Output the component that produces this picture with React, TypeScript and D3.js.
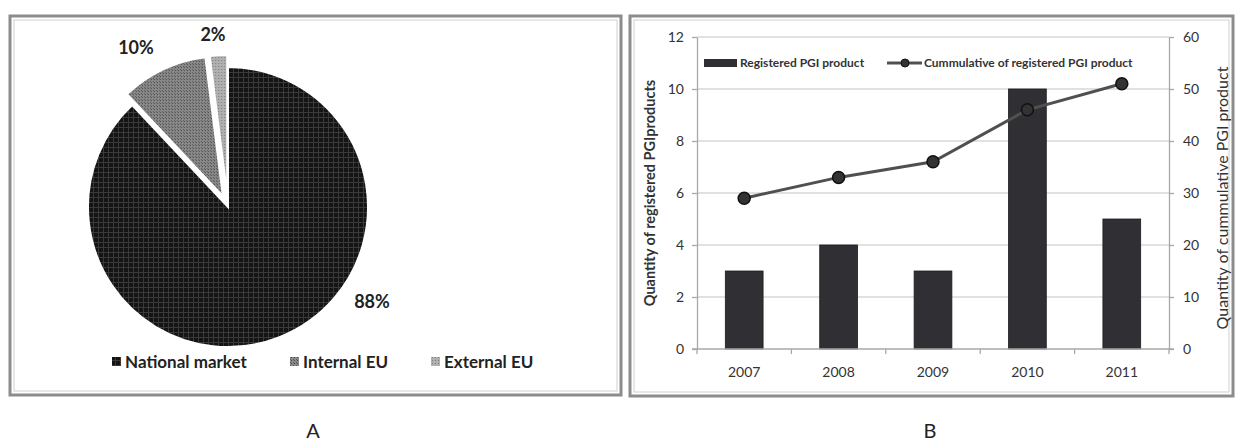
import React, { useEffect, useRef } from 'react';
import * as d3 from 'd3';

// Panel A: market share
const MARKETS = ['National market', 'Internal EU', 'External EU'];
const SHARES = [88, 10, 2];

// Panel B: registered PGI products
const YEARS = ['2007', '2008', '2009', '2010', '2011'];
const REGISTERED = [3, 4, 3, 10, 5];
const CUMULATIVE = [29, 33, 36, 46, 51];
const LEFT_TICKS = [0, 2, 4, 6, 8, 10, 12];
const RIGHT_TICKS = [0, 10, 20, 30, 40, 50, 60];

const FONT = 'Lato, "Open Sans", sans-serif';

const App: React.FC = () => {
  const svgRef = useRef<SVGSVGElement>(null);

  useEffect(() => {
    if (!svgRef.current) return;
    const svg = d3.select(svgRef.current);
    svg.selectAll('*').remove();

    // fill patterns
    const defs = svg.append('defs');
    const natP = defs.append('pattern').attr('id', 'pNat').attr('width', 5).attr('height', 5).attr('patternUnits', 'userSpaceOnUse');
    natP.append('rect').attr('width', 5).attr('height', 5).attr('fill', '#141414');
    natP.append('rect').attr('width', 5).attr('height', 1).attr('fill', '#3a3a3a');
    natP.append('rect').attr('width', 1).attr('height', 5).attr('fill', '#3a3a3a');
    const intP = defs.append('pattern').attr('id', 'pInt').attr('width', 3).attr('height', 3).attr('patternUnits', 'userSpaceOnUse');
    intP.append('rect').attr('width', 3).attr('height', 3).attr('fill', '#8a8a8a');
    intP.append('rect').attr('width', 1).attr('height', 1).attr('fill', '#444');
    intP.append('rect').attr('x', 2).attr('y', 2).attr('width', 1).attr('height', 1).attr('fill', '#555');
    const extP = defs.append('pattern').attr('id', 'pExt').attr('width', 3).attr('height', 3).attr('patternUnits', 'userSpaceOnUse');
    extP.append('rect').attr('width', 3).attr('height', 3).attr('fill', '#b0b0b0');
    extP.append('rect').attr('width', 1).attr('height', 1).attr('fill', '#7a7a7a');
    const fills = ['url(#pNat)', 'url(#pInt)', 'url(#pExt)'];

    const frame = (x: number, y: number, w: number, h: number) => {
      svg.append('rect').attr('x', x).attr('y', y).attr('width', w).attr('height', h)
        .attr('fill', 'white').attr('stroke', '#8c8c8c').attr('stroke-width', 3);
      svg.append('rect').attr('x', x + 4).attr('y', y + 4).attr('width', w - 8).attr('height', h - 8)
        .attr('fill', 'none').attr('stroke', '#cfcfcf').attr('stroke-width', 1);
    };

    // ---------- Panel A ----------
    frame(10, 16, 611, 379);
    const cx = 228, cy = 207, r = 140;
    const pie = d3.pie<number>().value(d => d).sort(null);
    const arc = d3.arc<d3.PieArcDatum<number>>().innerRadius(0).outerRadius(r);
    const gA = svg.append('g').attr('transform', `translate(${cx},${cy})`);
    pie(SHARES).forEach((d, i) => {
      const mid = (d.startAngle + d.endAngle) / 2;
      const off = i === 0 ? 0 : 12;
      gA.append('path')
        .attr('d', arc(d) as string)
        .attr('transform', `translate(${Math.sin(mid) * off},${-Math.cos(mid) * off})`)
        .attr('fill', fills[i])
        .attr('stroke', 'white')
        .attr('stroke-width', 2);
    });
    const pctPos: [number, number][] = [[372, 302], [136, 48], [213, 35]];
    SHARES.forEach((s, i) => {
      svg.append('text').attr('x', pctPos[i][0]).attr('y', pctPos[i][1]).attr('dy', '0.35em')
        .attr('text-anchor', 'middle').attr('font-family', FONT).attr('font-weight', 'bold')
        .attr('font-size', 18).attr('fill', '#222').text(`${s}%`);
    });
    const legX = [112, 290, 431];
    MARKETS.forEach((m, i) => {
      svg.append('rect').attr('x', legX[i]).attr('y', 357).attr('width', 9).attr('height', 9).attr('fill', fills[i]);
      svg.append('text').attr('x', legX[i] + 13).attr('y', 362).attr('dy', '0.35em')
        .attr('font-family', FONT).attr('font-weight', 'bold').attr('font-size', 17).attr('fill', '#222').text(m);
    });

    // ---------- Panel B ----------
    frame(630, 16, 603, 380);
    const x = d3.scaleBand().domain(YEARS).range([697, 1169]);
    const yL = d3.scaleLinear().domain([0, 12]).range([349, 37]);
    const yR = d3.scaleLinear().domain([0, 60]).range([349, 37]);

    const gB = svg.append('g');
    gB.selectAll('.grid').data(LEFT_TICKS.slice(1)).enter().append('line')
      .attr('x1', x.range()[0]).attr('x2', x.range()[1])
      .attr('y1', d => yL(d)).attr('y2', d => yL(d))
      .attr('stroke', '#c4c4c4').attr('stroke-width', 1.2);

    const axisStyle = (g: d3.Selection<SVGGElement, unknown, null, undefined>) => {
      g.select('.domain').attr('stroke', '#a8a8a8').attr('stroke-width', 1.3);
      g.selectAll('.tick line').attr('stroke', '#a8a8a8').attr('stroke-width', 1.3);
      g.selectAll('.tick text').attr('font-family', FONT).attr('font-size', 14).attr('fill', '#333');
    };
    gB.append('g').attr('transform', 'translate(697,0)')
      .call(d3.axisLeft(yL).tickValues(LEFT_TICKS).tickSize(5).tickSizeOuter(0).tickPadding(8))
      .call(axisStyle);
    gB.append('g').attr('transform', 'translate(1169,0)')
      .call(d3.axisRight(yR).tickValues(RIGHT_TICKS).tickSize(5).tickSizeOuter(0).tickPadding(9))
      .call(axisStyle);

    // bars
    gB.selectAll('.bar').data(REGISTERED).enter().append('rect')
      .attr('x', (_, i) => (x(YEARS[i]) as number) + x.bandwidth() * 0.3)
      .attr('width', x.bandwidth() * 0.4)
      .attr('y', d => yL(d)).attr('height', d => yL(0) - yL(d))
      .attr('fill', '#303034').attr('stroke', '#1c1c1c').attr('stroke-width', 0.8);

    // x axis with boundary ticks
    gB.append('line').attr('x1', 692).attr('x2', 1174).attr('y1', yL(0)).attr('y2', yL(0))
      .attr('stroke', '#a8a8a8').attr('stroke-width', 1.3);
    const bounds = YEARS.map(y => x(y) as number).concat([x.range()[1]]);
    bounds.forEach(b => {
      gB.append('line').attr('x1', b).attr('x2', b).attr('y1', yL(0)).attr('y2', yL(0) + 5)
        .attr('stroke', '#a8a8a8').attr('stroke-width', 1.3);
    });
    YEARS.forEach(yr => {
      gB.append('text').attr('x', (x(yr) as number) + x.bandwidth() / 2).attr('y', 372).attr('dy', '0.35em')
        .attr('text-anchor', 'middle').attr('font-family', FONT).attr('font-size', 14).attr('fill', '#333').text(yr);
    });

    // cumulative line
    const line = d3.line<number>()
      .x((_, i) => (x(YEARS[i]) as number) + x.bandwidth() / 2)
      .y(d => yR(d));
    gB.append('path').datum(CUMULATIVE).attr('d', line).attr('fill', 'none')
      .attr('stroke', '#505050').attr('stroke-width', 3);
    gB.selectAll('.pt').data(CUMULATIVE).enter().append('circle')
      .attr('cx', (_, i) => (x(YEARS[i]) as number) + x.bandwidth() / 2)
      .attr('cy', d => yR(d)).attr('r', 6)
      .attr('fill', '#333').attr('stroke', '#111').attr('stroke-width', 1.5);

    // axis titles
    svg.append('text').attr('transform', 'translate(650,193) rotate(-90)').attr('dy', '0.35em')
      .attr('text-anchor', 'middle').attr('font-family', FONT).attr('font-weight', 'bold')
      .attr('font-size', 14.5).attr('fill', '#333').text('Quantity of registered  PGIproducts');
    svg.append('text').attr('transform', 'translate(1222,198) rotate(-90)').attr('dy', '0.35em')
      .attr('text-anchor', 'middle').attr('font-family', FONT)
      .attr('font-size', 16).attr('fill', '#333').text('Quantity  of cummulative PGI product');

    // legend
    svg.append('rect').attr('x', 704).attr('y', 59).attr('width', 33).attr('height', 8).attr('fill', '#303034');
    svg.append('text').attr('x', 740).attr('y', 63).attr('dy', '0.35em').attr('font-family', FONT)
      .attr('font-weight', 'bold').attr('font-size', 12).attr('fill', '#333').text('Registered PGI product');
    svg.append('line').attr('x1', 887).attr('x2', 922).attr('y1', 63).attr('y2', 63)
      .attr('stroke', '#505050').attr('stroke-width', 3);
    svg.append('circle').attr('cx', 905).attr('cy', 63).attr('r', 4).attr('fill', '#333').attr('stroke', '#111');
    svg.append('text').attr('x', 924).attr('y', 63).attr('dy', '0.35em').attr('font-family', FONT)
      .attr('font-weight', 'bold').attr('font-size', 12).attr('fill', '#333').text('Cummulative of registered PGI product');

    // panel letters
    svg.append('text').attr('x', 313).attr('y', 431).attr('dy', '0.35em').attr('text-anchor', 'middle')
      .attr('font-family', FONT).attr('font-size', 20).attr('fill', '#222').text('A');
    svg.append('text').attr('x', 930).attr('y', 431).attr('dy', '0.35em').attr('text-anchor', 'middle')
      .attr('font-family', FONT).attr('font-size', 20).attr('fill', '#222').text('B');
  }, []);

  return (
    <svg ref={svgRef} width={1239} height={446}
      style={{ position: 'absolute', left: 0, top: 0, background: 'white' }} />
  );
};

export default App;
